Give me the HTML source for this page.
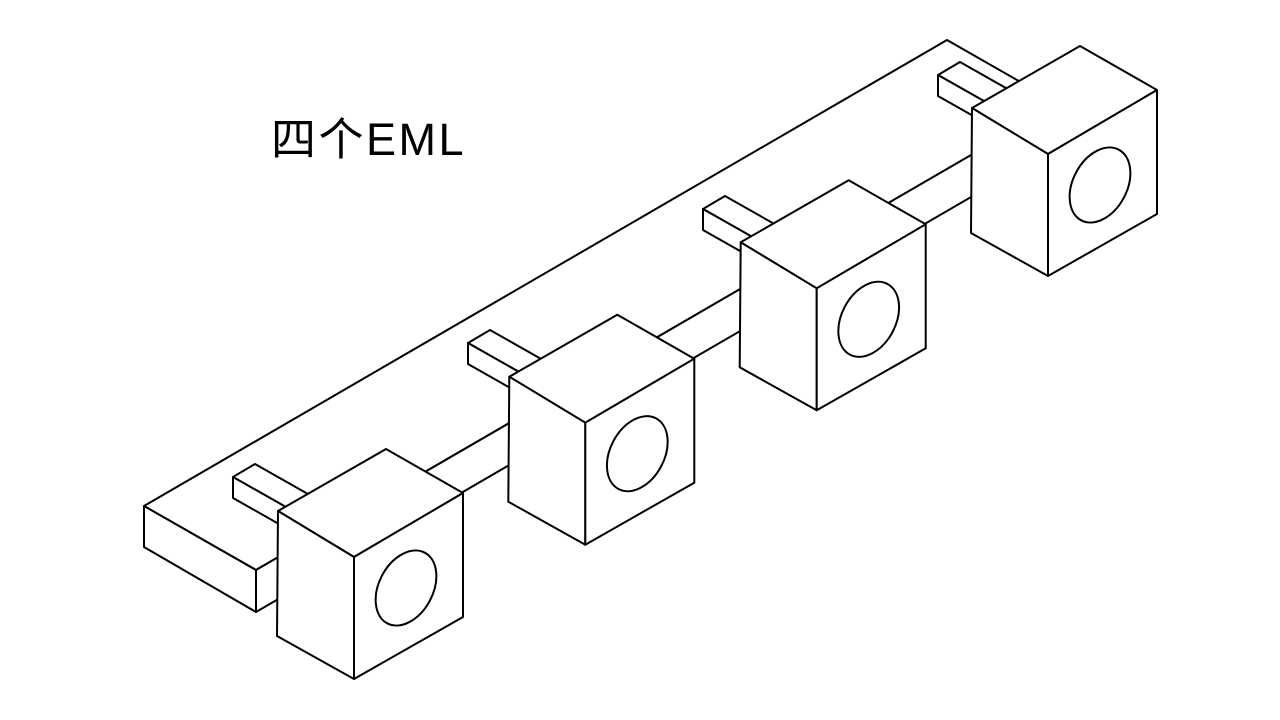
<!DOCTYPE html>
<html><head><meta charset="utf-8"><style>
html,body{margin:0;padding:0;background:#fff;width:1280px;height:720px;overflow:hidden}
svg{display:block}
</style></head><body>
<svg width="1280" height="720" viewBox="0 0 1280 720" xmlns="http://www.w3.org/2000/svg">
<text x="271" y="155" font-family="'Liberation Sans','Noto Sans CJK SC',sans-serif" font-size="45" fill="#000" letter-spacing="2.5">四个EML</text>
<g fill="#fff" stroke="#000" stroke-width="2" stroke-linejoin="round">
<polygon points="144,506 947,40 1059,104 256,570"/>
<polygon points="256,570 1059,104 1059,146 256,612"/>
<polygon points="144,506 256,570 256,612 144,547"/>
<g id="tab">
<polygon points="233,477 255,464 345,515 323,528"/>
<polygon points="233,477 323,528 323,549 233,498"/>
</g>
<use href="#tab" transform="translate(235,-134)"/>
<use href="#tab" transform="translate(470,-268)"/>
<use href="#tab" transform="translate(705,-402)"/>
<g transform="translate(694,-403)">
<polygon points="386,449 463,493 354,557 278,511"/>
<polygon points="278,511 354,557 354,679 277,636"/>
<polygon points="354,557 463,493 463,617 354,679"/>
<ellipse cx="406" cy="588" rx="27" ry="40" transform="rotate(28 406 588)"/>
</g>
<g transform="translate(462.7,-268.7)">
<polygon points="386,449 463,493 354,557 278,511"/>
<polygon points="278,511 354,557 354,679 277,636"/>
<polygon points="354,557 463,493 463,617 354,679"/>
<ellipse cx="406" cy="588" rx="27" ry="40" transform="rotate(28 406 588)"/>
</g>
<g transform="translate(231.3,-134.3)">
<polygon points="386,449 463,493 354,557 278,511"/>
<polygon points="278,511 354,557 354,679 277,636"/>
<polygon points="354,557 463,493 463,617 354,679"/>
<ellipse cx="406" cy="588" rx="27" ry="40" transform="rotate(28 406 588)"/>
</g>
<g>
<polygon points="386,449 463,493 354,557 278,511"/>
<polygon points="278,511 354,557 354,679 277,636"/>
<polygon points="354,557 463,493 463,617 354,679"/>
<ellipse cx="406" cy="588" rx="27" ry="40" transform="rotate(28 406 588)"/>
</g>
</g>
</svg>
</body></html>
